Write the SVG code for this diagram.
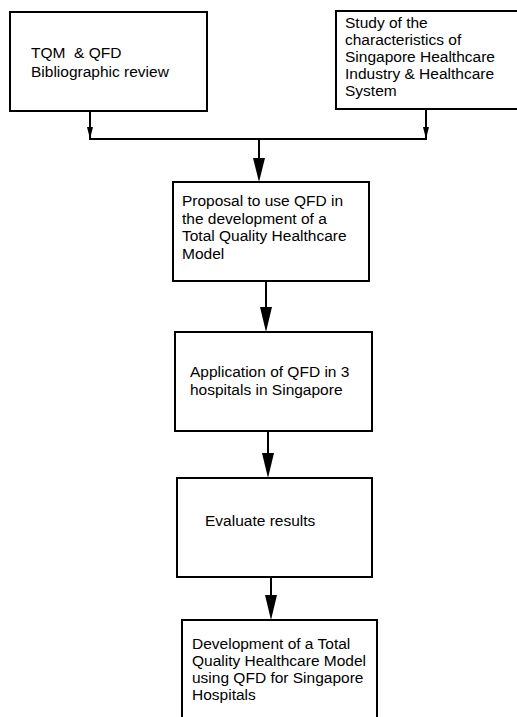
<svg xmlns="http://www.w3.org/2000/svg" width="517" height="717" viewBox="0 0 517 717">
<style>
.box{fill:#fff;stroke:#000;stroke-width:2}
.t{font-family:"Liberation Sans",Arial,sans-serif;font-size:15.5px;fill:#000}
.c{fill:none;stroke:#000;stroke-width:2}
.ah{fill:#000}
</style>
<rect width="517" height="717" fill="#fff"/>
<g id="n1">
<rect class="box" x="10" y="12" width="197" height="99"/>
<text class="t" x="31" y="58" xml:space="preserve">TQM  &amp; QFD</text>
<text class="t" x="31" y="77">Bibliographic review</text>
</g>
<g id="n2">
<rect class="box" x="336" y="11" width="196" height="98"/>
<text class="t" x="345" y="28">Study of the</text>
<text class="t" x="345" y="45">characteristics of</text>
<text class="t" x="345" y="62">Singapore Healthcare</text>
<text class="t" x="345" y="79">Industry &amp; Healthcare</text>
<text class="t" x="345" y="96">System</text>
</g>
<g id="n3">
<rect class="box" x="173" y="182" width="196" height="99"/>
<text class="t" x="182" y="206">Proposal to use QFD in</text>
<text class="t" x="182" y="224">the development of a</text>
<text class="t" x="182" y="241">Total Quality Healthcare</text>
<text class="t" x="182" y="259">Model</text>
</g>
<g id="n4">
<rect class="box" x="175" y="332" width="197" height="99"/>
<text class="t" x="190" y="377">Application of QFD in 3</text>
<text class="t" x="190" y="395">hospitals in Singapore</text>
</g>
<g id="n5">
<rect class="box" x="177" y="478" width="195" height="99"/>
<text class="t" x="205" y="526">Evaluate results</text>
</g>
<g id="n6">
<rect class="box" x="182" y="620" width="195" height="110"/>
<text class="t" x="192" y="649">Development of a Total</text>
<text class="t" x="192" y="666">Quality Healthcare Model</text>
<text class="t" x="192" y="683">using QFD for Singapore</text>
<text class="t" x="192" y="700">Hospitals</text>
</g>
<g id="connectors">
<path class="c" d="M90 111 V139 H426 V109"/>
<polygon class="ah" points="87,127 93,127 90,139"/>
<polygon class="ah" points="423,127 429,127 426,139"/>
<path class="c" d="M259 139 V170"/>
<polygon class="ah" points="253,158 265,158 259,182"/>
<path class="c" d="M266 281 V320"/>
<polygon class="ah" points="260,307 272,307 266,332"/>
<path class="c" d="M268 431 V466"/>
<polygon class="ah" points="262,453 274,453 268,478"/>
<path class="c" d="M271 577 V608"/>
<polygon class="ah" points="265,595 277,595 271,620"/>
</g>
</svg>
